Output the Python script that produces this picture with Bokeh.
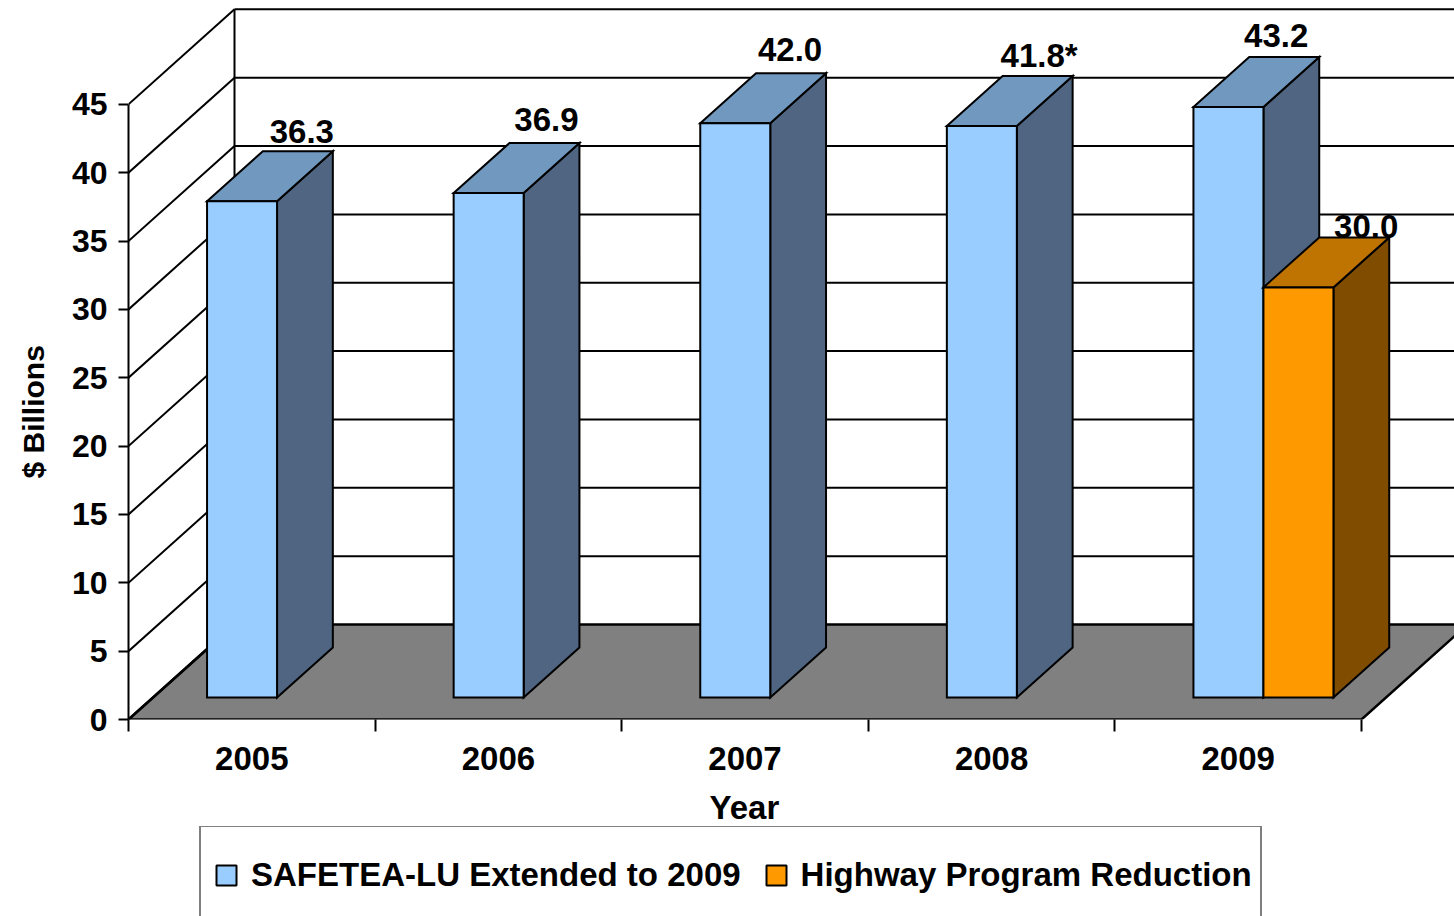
from bokeh.plotting import figure
from bokeh.embed import file_html
from bokeh.resources import INLINE
from bokeh.layouts import column
from bokeh.models import FixedTicker, Legend, LegendItem, ColumnDataSource, Title
from bokeh.core.properties import value

years = ["2005", "2006", "2007", "2008", "2009"]
safetea = [36.3, 36.9, 42.0, 41.8, 43.2]
safetea_labels = ["36.3", "36.9", "42.0", "41.8*", "43.2"]
reduction_year_index = [4]
reduction = [30.0]
reduction_labels = ["30.0"]
y_ticks = [0, 5, 10, 15, 20, 25, 30, 35, 40, 45]

FONT = "Liberation Sans"
PX_X = 246.6      # pixels per category
PX_Y = 13.67      # pixels per $ billion
DEPTH_X = 106 / PX_X
DEPTH_Y = 95 / PX_Y
BAR_FRONT = 22 / 95
BAR_BACK = 72 / 95
BAR_OFFSET = (78.5 - 24.5) / PX_X
BAR_W = 70 / PX_X


def proj(x, v, d):
    return x + d * DEPTH_X, v + d * DEPTH_Y


p = figure(width=1454, height=828, frame_width=1326, frame_height=719,
           output_backend="svg", toolbar_location=None,
           x_range=(0, (1454 - 128) / PX_X), y_range=(0, 719 / PX_Y),
           min_border_left=128, min_border_right=0, min_border_top=0, min_border_bottom=109,
           outline_line_color=None, background_fill_color="white")
p.grid.visible = False

# floor
fx, fy = zip(*[proj(0, 0, 0), proj(0, 0, 1), proj(5, 0, 1), proj(5, 0, 0)])
p.patch(list(fx), list(fy), fill_color="#808080", line_color="black", line_width=2.5)

# walls
wx, wy = [], []
for t in y_ticks:
    x0, y0 = proj(0, t, 0)
    x1, y1 = proj(0, t, 1)
    x2, y2 = proj(5, t, 1)
    if t > 0:
        wx.append([x0, x1]); wy.append([y0, y1])
        wx.append([x1, x2]); wy.append([y1, y2])
xb0, yb0 = proj(0, 0, 1)
xb1, yb1 = proj(0, y_ticks[-1], 1)
wx.append([xb0, xb1]); wy.append([yb0, yb1])
p.multi_line(wx, wy, line_color="black", line_width=2)
xd0, yd0 = proj(0, 0, 0)
xd1, yd1 = proj(0, 0, 1)
p.line([xd0, xd1], [yd0, yd1], line_color="black", line_width=2.5)


def bar(left, val, face, top, side):
    r = left + BAR_W
    pts_front = [proj(left, 0, BAR_FRONT), proj(r, 0, BAR_FRONT),
                 proj(r, val, BAR_FRONT), proj(left, val, BAR_FRONT)]
    pts_side = [proj(r, 0, BAR_FRONT), proj(r, 0, BAR_BACK),
                proj(r, val, BAR_BACK), proj(r, val, BAR_FRONT)]
    pts_top = [proj(left, val, BAR_FRONT), proj(r, val, BAR_FRONT),
               proj(r, val, BAR_BACK), proj(left, val, BAR_BACK)]
    for pts, c in ((pts_side, side), (pts_top, top), (pts_front, face)):
        xs, ys = zip(*pts)
        p.patch(list(xs), list(ys), fill_color=c, line_color="black",
                line_width=2, line_join="miter")


BLUE = "#99CCFF"
ORANGE = "#FF9900"
for i, v in enumerate(safetea):
    bar(i + BAR_OFFSET, v, BLUE, "#7199BF", "#4F6581")


def labels(xs, vs, txt, dx, dy):
    pts = [proj(x, v, BAR_BACK) for x, v in zip(xs, vs)]
    src = ColumnDataSource(dict(x=[a for a, _ in pts], y=[b for _, b in pts], t=txt, dx=dx, dy=dy))
    p.text("x", "y", text="t", source=src, x_offset="dx", y_offset="dy",
           text_align="center", text_baseline="middle", text_color="black",
           text_font=value(FONT), text_font_style="bold", text_font_size="33px")


labels([i + BAR_OFFSET + BAR_W / 2 for i in range(5)], safetea, safetea_labels,
       [4, 2, -1, 1.5, -8], [-20, -24, -24, -21, -21])
labels([i + BAR_OFFSET + BAR_W * 1.5 for i in reduction_year_index], reduction, reduction_labels,
       [12], [-11])

for i, v in zip(reduction_year_index, reduction):
    bar(i + BAR_OFFSET + BAR_W, v, ORANGE, "#BF7300", "#804D00")

# axes
ya = p.yaxis[0]
ya.ticker = FixedTicker(ticks=y_ticks)
ya.bounds = (0, y_ticks[-1])
ya.axis_line_color = "black"; ya.axis_line_width = 2
ya.major_tick_line_color = "black"; ya.major_tick_line_width = 2
ya.major_tick_in = 0; ya.major_tick_out = 10
ya.minor_tick_line_color = None
ya.major_label_standoff = 11
ya.major_label_text_font = FONT; ya.major_label_text_font_style = "bold"
ya.major_label_text_font_size = "32px"; ya.major_label_text_color = "black"

xa = p.xaxis[0]
centers = [i + 0.5 for i in range(len(years))]
xa.ticker = FixedTicker(ticks=centers, minor_ticks=list(range(len(years) + 1)))
xa.major_label_overrides = {c: y for c, y in zip(centers, years)}
xa.axis_line_color = None
xa.major_tick_line_color = None; xa.major_tick_in = 0; xa.major_tick_out = 0
xa.minor_tick_line_color = "black"; xa.minor_tick_line_width = 2
xa.minor_tick_in = 0; xa.minor_tick_out = 12
xa.major_label_standoff = 15
xa.major_label_text_font = FONT; xa.major_label_text_font_style = "bold"
xa.major_label_text_font_size = "33px"; xa.major_label_text_color = "black"

year_title = Title(text="Year", align="left", offset=581, standoff=29,
                   text_font=FONT, text_font_style="bold", text_font_size="33px", text_color="black")
p.add_layout(year_title, "below")
billion_title = Title(text="$ Billions", align="left", offset=241, standoff=33, vertical_align="top",
                      text_font=FONT, text_font_style="bold", text_font_size="30px", text_color="black")
p.add_layout(billion_title, "left")

# legend strip under the chart
q = figure(width=1454, height=90, output_backend="svg", toolbar_location=None,
           x_range=(0, 1), y_range=(0, 1), min_border=0,
           x_axis_location=None, y_axis_location=None,
           outline_line_color=None, background_fill_color=None, border_fill_color=None,
           margin=(-14, 0, 0, 0))
q.grid.visible = False
# key markers sit outside the strip's range: only their legend swatches show
key_blue = q.scatter([-1], [-1], marker="square", fill_color=BLUE, line_color="black", line_width=2)
key_orange = q.scatter([-1], [-1], marker="square", fill_color=ORANGE, line_color="black", line_width=2)
legend = Legend(items=[LegendItem(label="SAFETEA-LU Extended to 2009", renderers=[key_blue]),
                       LegendItem(label="Highway Program Reduction", renderers=[key_orange])],
                location=(71, -9), orientation="horizontal",
                margin=0, padding=0, spacing=10,
                glyph_width=50, glyph_height=96, label_standoff=0,
                label_text_font=FONT, label_text_font_style="bold",
                label_text_font_size="33px", label_text_color="black",
                label_height=96, label_width=459,
                border_line_color="black", border_line_width=2,
                background_fill_color="white", background_fill_alpha=1)
q.add_layout(legend)

page = column(p, q, spacing=0)
open("out.html", "w").write(file_html(page, INLINE))
